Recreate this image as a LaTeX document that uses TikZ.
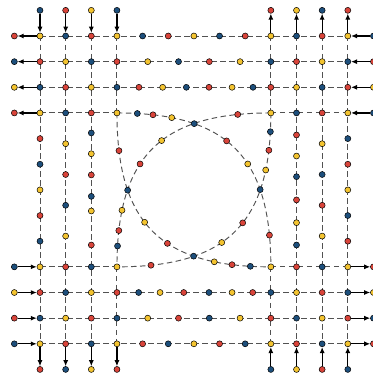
\documentclass[tikz,border=0pt]{standalone}
\usetikzlibrary{arrows.meta}
\definecolor{cR}{HTML}{D9443A}
\definecolor{cB}{HTML}{1D4F7C}
\definecolor{cY}{HTML}{F4C430}
\tikzset{
  dot/.style={circle, draw=black, line width=0.5pt, inner sep=0pt, minimum size=6pt},
  dotR/.style={dot, fill=cR},
  dotB/.style={dot, fill=cB},
  dotY/.style={dot, fill=cY},
  gridline/.style={draw=black!68, line width=0.95pt, dash pattern=on 5.5pt off 3.5pt},
  arr/.style={draw=black, line width=1.1pt, -{Latex[length=6pt,width=5pt]}},
}
\begin{document}
\begin{tikzpicture}[x=25.65pt, y=-25.65pt]
\useasboundingbox (-1.5595,-1.4035) rectangle (12.9435,13.2943);
\foreach \i in {0,1,2,3,9,10,11,12}
  \foreach \j in {0,1,2,3,9,10,11,12}
    \coordinate (g-\i-\j) at (\i,\j);

% ---- dashed lines ----
\foreach \j in {0,1,2,10,11,12} \draw[gridline] (g-0-\j) -- (g-12-\j);
\foreach \i in {0,1,2,10,11,12} \draw[gridline] (g-\i-0) -- (g-\i-12);
\draw[gridline] (g-0-3) -- (g-3-3);
\draw[gridline] (g-9-3) -- (g-12-3);
\draw[gridline] (g-0-9) -- (g-3-9);
\draw[gridline] (g-9-9) -- (g-12-9);
\draw[gridline] (g-3-0) -- (g-3-3);
\draw[gridline] (g-3-9) -- (g-3-12);
\draw[gridline] (g-9-0) -- (g-9-3);
\draw[gridline] (g-9-9) -- (g-9-12);
% crossing curves
\draw[gridline] (g-3-3) .. controls +(4.3,0) and +(0,-4.3) .. (g-9-9);
\draw[gridline] (g-9-3) .. controls +(-4.3,0) and +(0,-4.3) .. (g-3-9);
\draw[gridline] (g-3-3) .. controls +(0,4.3) and +(-4.3,0) .. (g-9-9);
\draw[gridline] (g-9-3) .. controls +(0,4.3) and +(4.3,0) .. (g-3-9);

% ---- dots on the long straight lines ----
\path (g-3-0) -- (g-9-0)
  node[dotB,pos=0.1667] (r0a) {} node[dotR,pos=0.3333] (r0b) {} node[dotY,pos=0.5] (r0c) {}
  node[dotB,pos=0.6667] (r0d) {} node[dotR,pos=0.8333] (r0e) {};
\path (g-3-1) -- (g-9-1)
  node[dotY,pos=0.2] (r1a) {} node[dotB,pos=0.4] (r1b) {} node[dotR,pos=0.6] (r1c) {} node[dotY,pos=0.8] (r1d) {};
\path (g-3-2) -- (g-9-2)
  node[dotR,pos=0.143] (r2a) {} node[dotY,pos=0.297] (r2b) {} node[dotB,pos=0.451] (r2c) {}
  node[dotR,pos=0.598] (r2d) {} node[dotY,pos=0.748] (r2e) {} node[dotB,pos=0.884] (r2f) {};
\path (g-3-10) -- (g-9-10)
  node[dotB,pos=0.141] (r10a) {} node[dotY,pos=0.280] (r10b) {} node[dotR,pos=0.434] (r10c) {}
  node[dotB,pos=0.598] (r10d) {} node[dotY,pos=0.748] (r10e) {} node[dotR,pos=0.882] (r10f) {};
\path (g-3-11) -- (g-9-11)
  node[dotY,pos=0.2] (r11a) {} node[dotR,pos=0.4] (r11b) {} node[dotB,pos=0.6] (r11c) {} node[dotY,pos=0.8] (r11d) {};
\path (g-3-12) -- (g-9-12)
  node[dotR,pos=0.1667] (r12a) {} node[dotB,pos=0.3333] (r12b) {} node[dotY,pos=0.5] (r12c) {}
  node[dotR,pos=0.6667] (r12d) {} node[dotB,pos=0.8333] (r12e) {};
\path (g-0-3) -- (g-0-9)
  node[dotR,pos=0.1667] (c0a) {} node[dotB,pos=0.3333] (c0b) {} node[dotY,pos=0.5] (c0c) {}
  node[dotR,pos=0.6667] (c0d) {} node[dotB,pos=0.8333] (c0e) {};
\path (g-1-3) -- (g-1-9)
  node[dotY,pos=0.2] (c1a) {} node[dotR,pos=0.4] (c1b) {} node[dotB,pos=0.6] (c1c) {} node[dotY,pos=0.8] (c1d) {};
\path (g-2-3) -- (g-2-9)
  node[dotB,pos=0.130] (c2a) {} node[dotY,pos=0.265] (c2b) {} node[dotR,pos=0.403] (c2c) {}
  node[dotB,pos=0.542] (c2d) {} node[dotY,pos=0.637] (c2e) {} node[dotR,pos=0.858] (c2f) {};
\path (g-10-3) -- (g-10-9)
  node[dotR,pos=0.143] (c10a) {} node[dotY,pos=0.280] (c10b) {} node[dotB,pos=0.414] (c10c) {}
  node[dotR,pos=0.565] (c10d) {} node[dotY,pos=0.713] (c10e) {} node[dotB,pos=0.858] (c10f) {};
\path (g-11-3) -- (g-11-9)
  node[dotY,pos=0.2] (c11a) {} node[dotB,pos=0.4] (c11b) {} node[dotR,pos=0.6] (c11c) {} node[dotY,pos=0.8] (c11d) {};
\path (g-12-3) -- (g-12-9)
  node[dotB,pos=0.1667] (c12a) {} node[dotR,pos=0.3333] (c12b) {} node[dotY,pos=0.5] (c12c) {}
  node[dotB,pos=0.6667] (c12d) {} node[dotR,pos=0.8333] (c12e) {};

% ---- dots on the curves ----
\path (g-3-3) .. controls +(4.3,0) and +(0,-4.3) .. (g-9-9)
  node[dotB,pos=0.064] (k1a) {} node[dotR,pos=0.117] (k1b) {} node[dotY,pos=0.186] (k1c) {}
  node[dotR,pos=0.445] (k1d) {} node[dotY,pos=0.594] (k1e) {} node[dotR,pos=0.898] (k1f) {};
\path (g-9-3) .. controls +(-4.3,0) and +(0,-4.3) .. (g-3-9)
  node[dotR,pos=0.107] (k2a) {} node[dotY,pos=0.4425] (k2b) {} node[dotR,pos=0.594] (k2c) {}
  node[dotY,pos=0.807] (k2d) {} node[dotR,pos=0.882] (k2e) {} node[dotB,pos=0.9345] (k2f) {};
\path (g-3-3) .. controls +(0,4.3) and +(-4.3,0) .. (g-9-9)
  node[dotR,pos=0.123] (k3a) {} node[dotY,pos=0.443] (k3b) {} node[dotR,pos=0.591] (k3c) {}
  node[dotY,pos=0.807] (k3d) {} node[dotR,pos=0.873] (k3e) {} node[dotB,pos=0.9355] (k3f) {};
\path (g-9-3) .. controls +(0,4.3) and +(4.3,0) .. (g-3-9)
  node[dotB,pos=0.0588] (k4a) {} node[dotR,pos=0.1215] (k4b) {} node[dotY,pos=0.195] (k4c) {}
  node[dotR,pos=0.4465] (k4d) {} node[dotY,pos=0.5835] (k4e) {} node[dotR,pos=0.89] (k4f) {};
% crossings
\path (g-3-3) .. controls +(4.3,0) and +(0,-4.3) .. (g-9-9)
  node[dotB,pos=0.279] (xtop) {} node[dotB,pos=0.721] (xright) {};
\path (g-3-3) .. controls +(0,4.3) and +(-4.3,0) .. (g-9-9)
  node[dotB,pos=0.279] (xleft) {} node[dotB,pos=0.721] (xbottom) {};

% ---- lattice nodes ----
\foreach \i/\j/\c in {
  0/0/Y,1/0/B,2/0/R,3/0/Y,9/0/Y,10/0/B,11/0/R,12/0/Y,
  0/1/R,1/1/Y,2/1/B,3/1/R,9/1/B,10/1/R,11/1/Y,12/1/B,
  0/2/B,1/2/R,2/2/Y,3/2/B,9/2/R,10/2/Y,11/2/B,12/2/R,
  0/3/Y,1/3/B,2/3/R,3/3/Y,9/3/Y,10/3/B,11/3/R,12/3/Y,
  0/9/Y,1/9/R,2/9/B,3/9/Y,9/9/Y,10/9/R,11/9/B,12/9/Y,
  0/10/R,1/10/B,2/10/Y,3/10/R,9/10/B,10/10/Y,11/10/R,12/10/B,
  0/11/B,1/11/Y,2/11/R,3/11/B,9/11/R,10/11/B,11/11/Y,12/11/R,
  0/12/Y,1/12/R,2/12/B,3/12/Y,9/12/Y,10/12/R,11/12/B,12/12/Y}
  \node[dot\c] (n-\i-\j) at (g-\i-\j) {};

% ---- outer nodes ----
\foreach \i/\c in {0/B,1/R,2/Y,3/B,9/R,10/Y,11/B,12/R}
  \node[dot\c] (t\i) at (\i,-1) {};
\foreach \i/\c in {0/R,1/B,2/Y,3/R,9/B,10/Y,11/R,12/B}
  \node[dot\c] (b\i) at (\i,13) {};
\foreach \j/\c in {0/R,1/B,2/Y,3/R,9/B,10/Y,11/R,12/B}
  \node[dot\c] (l\j) at (-1,\j) {};
\foreach \j/\c in {0/B,1/R,2/Y,3/B,9/R,10/Y,11/B,12/R}
  \node[dot\c] (r\j) at (13,\j) {};

% ---- arrows ----
\foreach \i in {0,1,2,3} {
  \draw[arr] (t\i) -- (n-\i-0);
  \draw[arr] (n-\i-12) -- (b\i);
}
\foreach \i in {9,10,11,12} {
  \draw[arr] (n-\i-0) -- (t\i);
  \draw[arr] (b\i) -- (n-\i-12);
}
\foreach \j in {0,1,2,3} {
  \draw[arr] (n-0-\j) -- (l\j);
  \draw[arr] (r\j) -- (n-12-\j);
}
\foreach \j in {9,10,11,12} {
  \draw[arr] (l\j) -- (n-0-\j);
  \draw[arr] (n-12-\j) -- (r\j);
}
\end{tikzpicture}
\end{document}
